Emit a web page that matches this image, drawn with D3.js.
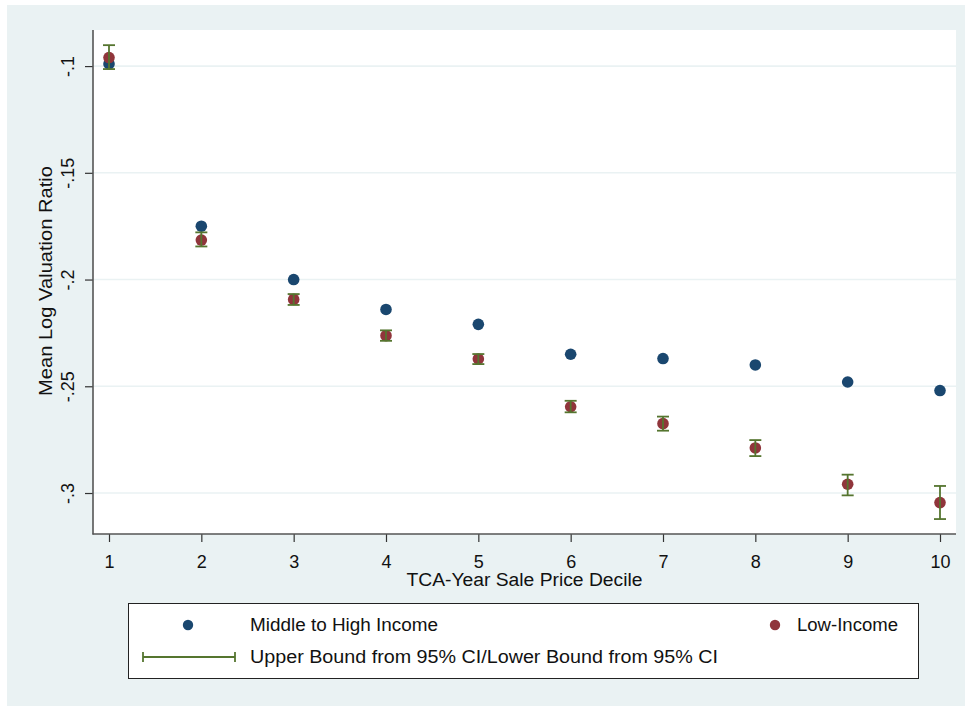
<!DOCTYPE html>
<html>
<head>
<meta charset="utf-8">
<script src="https://cdn.jsdelivr.net/npm/d3@7"></script>
<style>
  html, body { margin: 0; padding: 0; background: #ffffff; }
  svg { display: block; }
  text { font-family: Arial, "Liberation Sans", sans-serif; fill: #111; }
</style>
</head>
<body>
<svg id="chart" width="971" height="710"></svg>
<script>
const deciles = [1, 2, 3, 4, 5, 6, 7, 8, 9, 10];
const midHigh = [-0.099, -0.175, -0.200, -0.214, -0.221, -0.235, -0.237, -0.240, -0.248, -0.252];
const lowIncome = [-0.096, -0.1815, -0.2093, -0.2263, -0.2372, -0.2596, -0.2675, -0.2789, -0.2959, -0.3045];
const ciUpper = [-0.0902, -0.1779, -0.2068, -0.2238, -0.2349, -0.2568, -0.2642, -0.2752, -0.2914, -0.2967];
const ciLower = [-0.1014, -0.1845, -0.2119, -0.2287, -0.2396, -0.2622, -0.2708, -0.2827, -0.3011, -0.3122];
const yTicks = [-0.1, -0.15, -0.2, -0.25, -0.3];
const yTickLabels = ["-.1", "-.15", "-.2", "-.25", "-.3"];
const xTicks = [1, 2, 3, 4, 5, 6, 7, 8, 9, 10];
const seriesNames = ["Middle to High Income", "Low-Income", "Upper Bound from 95% CI/Lower Bound from 95% CI"];

const colBlue = "#1a476f", colRed = "#90353b", colGreen = "#55752f", bg = "#eaf2f3";

const svg = d3.select("#chart");
svg.append("rect").attr("x", 7).attr("y", 5).attr("width", 958).attr("height", 701).attr("fill", bg);

const plot = {left: 93, right: 956, top: 30, bottom: 534};
svg.append("rect").attr("x", plot.left).attr("y", plot.top)
  .attr("width", plot.right - plot.left).attr("height", plot.bottom - plot.top).attr("fill", "#fff");

const x = d3.scaleLinear().domain([1, 10]).range([109, 940]);
const y = d3.scaleLinear().domain([-0.3192, -0.0831]).range([plot.bottom, plot.top]);

// gridlines
svg.append("g").selectAll("line").data(yTicks).join("line")
  .attr("x1", plot.left).attr("x2", plot.right)
  .attr("y1", d => y(d)).attr("y2", d => y(d))
  .attr("stroke", bg).attr("stroke-width", 1.6);

// y axis
const yAxis = d3.axisLeft(y).tickValues(yTicks).tickFormat((d, i) => yTickLabels[i]).tickSize(8);
const gy = svg.append("g").attr("transform", `translate(${plot.left},0)`).call(yAxis);
gy.select(".domain").remove();
gy.selectAll(".tick line").attr("stroke", "#333").attr("stroke-width", 1.2);
gy.selectAll(".tick text")
  .attr("font-size", 18).attr("fill", "#111")
  .attr("text-anchor", "middle")
  .attr("x", 0).attr("y", -19).attr("dy", "0em")
  .attr("transform", "rotate(-90)");

// x axis
const xAxis = d3.axisBottom(x).tickValues(xTicks).tickFormat(d3.format("d")).tickSize(8).tickPadding(13);
const gx = svg.append("g").attr("transform", `translate(0,${plot.bottom})`).call(xAxis);
gx.select(".domain").remove();
gx.selectAll(".tick line").attr("stroke", "#333").attr("stroke-width", 1.2);
gx.selectAll(".tick text").attr("font-size", 18).attr("fill", "#111");

// axis lines
svg.append("line").attr("x1", plot.left).attr("x2", plot.left).attr("y1", plot.top).attr("y2", plot.bottom + 0.5)
  .attr("stroke", "#555").attr("stroke-width", 1.6);
svg.append("line").attr("x1", plot.left - 0.5).attr("x2", plot.right).attr("y1", plot.bottom).attr("y2", plot.bottom)
  .attr("stroke", "#555").attr("stroke-width", 1.6);

// axis titles
svg.append("text").attr("x", (plot.left + plot.right) / 2).attr("y", 586)
  .attr("text-anchor", "middle").attr("font-size", 18)
  .attr("textLength", 236).attr("lengthAdjust", "spacingAndGlyphs")
  .text("TCA-Year Sale Price Decile");
svg.append("text").attr("transform", `translate(52,${(plot.top + plot.bottom) / 2 - 1}) rotate(-90)`)
  .attr("text-anchor", "middle").attr("font-size", 18)
  .attr("textLength", 230).attr("lengthAdjust", "spacingAndGlyphs")
  .text("Mean Log Valuation Ratio");

// points
svg.append("g").selectAll("circle").data(deciles).join("circle")
  .attr("cx", d => x(d)).attr("cy", (d, i) => y(midHigh[i])).attr("r", 5.8).attr("fill", colBlue);
svg.append("g").selectAll("circle").data(deciles).join("circle")
  .attr("cx", d => x(d)).attr("cy", (d, i) => y(lowIncome[i])).attr("r", 5.8).attr("fill", colRed);

// CI bars
const ci = svg.append("g").attr("stroke", colGreen).attr("stroke-width", 1.8);
deciles.forEach((d, i) => {
  const cx = x(d);
  ci.append("line").attr("x1", cx).attr("x2", cx).attr("y1", y(ciUpper[i])).attr("y2", y(ciLower[i]));
  ci.append("line").attr("x1", cx - 6).attr("x2", cx + 6).attr("y1", y(ciUpper[i])).attr("y2", y(ciUpper[i]));
  ci.append("line").attr("x1", cx - 6).attr("x2", cx + 6).attr("y1", y(ciLower[i])).attr("y2", y(ciLower[i]));
});

// legend
const lg = svg.append("g");
lg.append("rect").attr("x", 128.5).attr("y", 603.5).attr("width", 790).attr("height", 75)
  .attr("fill", "#fff").attr("stroke", "#222").attr("stroke-width", 1);
lg.append("circle").attr("cx", 188).attr("cy", 625).attr("r", 5.2).attr("fill", colBlue);
lg.append("text").attr("x", 250).attr("y", 631).attr("font-size", 18)
  .attr("textLength", 188).attr("lengthAdjust", "spacingAndGlyphs").text(seriesNames[0]);
lg.append("circle").attr("cx", 775).attr("cy", 625).attr("r", 5.2).attr("fill", colRed);
lg.append("text").attr("x", 797).attr("y", 631).attr("font-size", 18)
  .attr("textLength", 101).attr("lengthAdjust", "spacingAndGlyphs").text(seriesNames[1]);
const ls = lg.append("g").attr("stroke", colGreen).attr("stroke-width", 1.8);
ls.append("line").attr("x1", 143).attr("x2", 235).attr("y1", 657).attr("y2", 657);
ls.append("line").attr("x1", 143).attr("x2", 143).attr("y1", 652).attr("y2", 662);
ls.append("line").attr("x1", 235).attr("x2", 235).attr("y1", 652).attr("y2", 662);
lg.append("text").attr("x", 250).attr("y", 663).attr("font-size", 18)
  .attr("textLength", 468).attr("lengthAdjust", "spacingAndGlyphs").text(seriesNames[2]);
</script>
</body>
</html>
